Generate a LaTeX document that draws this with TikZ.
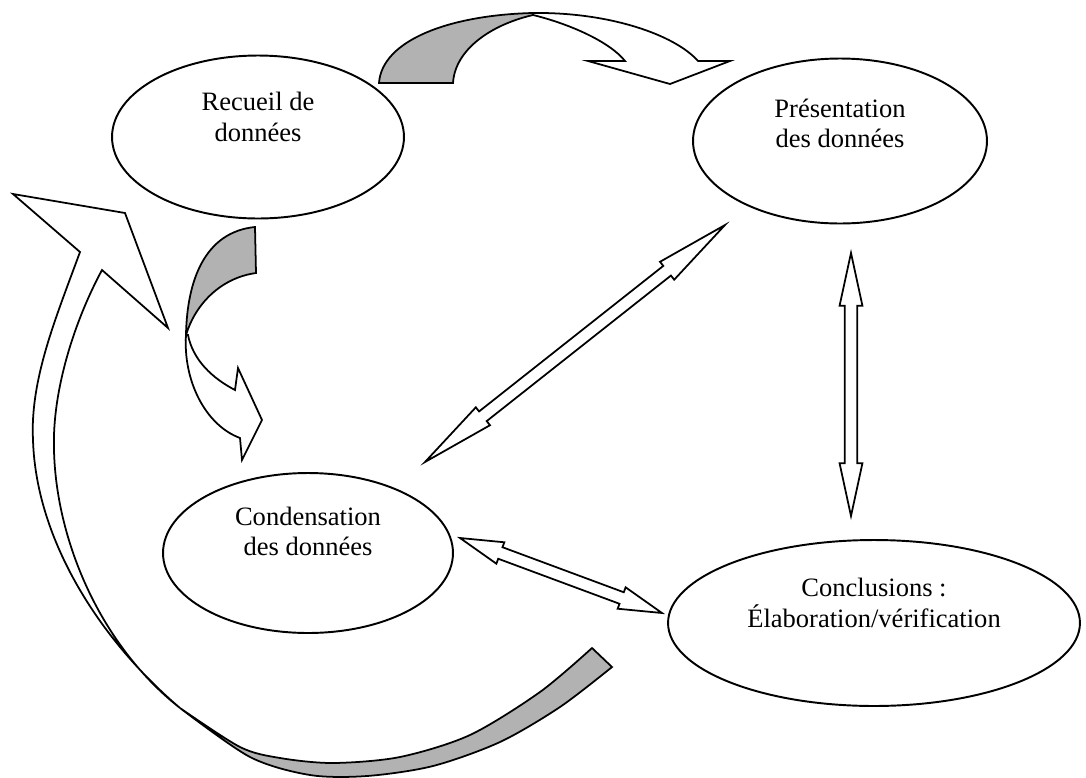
\documentclass[tikz,border=0pt]{standalone}
\usepackage{fontspec}
\setmainfont{Liberation Serif}
\usepackage{tikz}
\usetikzlibrary{calc}
\usetikzlibrary{shapes.geometric}

\tikzset{
  phase/.style={ellipse,draw,line width=1.1pt,inner sep=0pt},
  phasetext/.style={align=center,font=\fontsize{15.1}{17.6}\selectfont},
  front/.style={draw,fill=white,line width=1pt},
  back/.style={draw,fill=black!30,line width=1pt},
  blockarrow/.style={draw,fill=white,line width=1pt}
}

\newcommand{\twoway}[3]{%
  \draw[blockarrow] (#2)
    -- ($(#2)!#1!(#3)!6.5pt!90:(#3)$)
    -- ($(#2)!#1!(#3)!3.5pt!90:(#3)$)
    -- ($(#3)!#1!(#2)!3.5pt!-90:(#2)$)
    -- ($(#3)!#1!(#2)!6.5pt!-90:(#2)$)
    -- (#3)
    -- ($(#3)!#1!(#2)!6.5pt!90:(#2)$)
    -- ($(#3)!#1!(#2)!3.5pt!90:(#2)$)
    -- ($(#2)!#1!(#3)!3.5pt!-90:(#3)$)
    -- ($(#2)!#1!(#3)!6.5pt!-90:(#3)$)
    -- cycle;}

\begin{document}
\begin{tikzpicture}[x=0.02cm,y=-0.02cm]
	\useasboundingbox (0,0) rectangle (1086,778);
	\node[phase,minimum width=5.84cm,minimum height=3.26cm] (recueil) at (258,137) {};
	\node[phase,minimum width=5.88cm,minimum height=3.30cm] (presentation) at (840,141) {};
	\node[phase,minimum width=5.80cm,minimum height=3.20cm] (condensation) at (308,553) {};
	\node[phase,minimum width=8.24cm,minimum height=3.32cm] (conclusions) at (874,623) {};
	\node[phasetext] (recueil-t) at ([yshift=11.2pt]recueil.center) {Recueil de\\données};
	\node[phasetext] (presentation-t) at ([yshift=10pt]presentation.center) {Présentation\\des données};
	\node[phasetext] (condensation-t) at ([yshift=12.3pt]condensation.center) {Condensation\\des données};
	\node[phasetext] (conclusions-t) at ([yshift=11.2pt]conclusions.center) {Conclusions :\\Élaboration/vérification};
	\coordinate (p-sw) at (725,225);
	\coordinate (c-ne) at (425,462);
	\coordinate (p-s) at (851,253);
	\coordinate (k-n) at (851,516);
	\coordinate (c-e) at (460,538);
	\coordinate (k-w) at (662,613);
	\twoway{42pt}{p-sw}{c-ne}
	\twoway{30pt}{p-s}{k-n}
	\twoway{24.5pt}{c-e}{k-w}
	\filldraw[back] (379,83) .. controls (382,40) and (450,15) .. (533,13)
		-- (533,15) .. controls (490,25) and (455,50) .. (453,83) -- cycle;
	\filldraw[front] (533,13) .. controls (610,12) and (675,35) .. (698,61) -- (730,61) -- (670,84)
		-- (588,61) -- (625,61) .. controls (610,42) and (570,24) .. (533,15) -- cycle;
	\filldraw[back] (255,227) .. controls (205,232) and (187,280) .. (186,335)
		.. controls (195,305) and (220,278) .. (256,273) -- cycle;
	\filldraw[front] (186,335) .. controls (183,380) and (205,425) .. (240,438) -- (242,460) -- (262,420)
		-- (238,368) -- (235,390) .. controls (212,378) and (193,360) .. (188,335) -- cycle;
	\filldraw[back] plot[smooth] coordinates {(180,708) (250,757) (310,775) (367,776) (433,766) (500,742) (560,707) (612,667)}
		-- (592,648) -- plot[smooth] coordinates {(592,648) (540,692) (470,735) (400,757) (333,763) (280,758) (240,747) (180,708)} -- cycle;
	\filldraw[front] (180,708) .. controls (100,640) and (36,540) .. (33,440) .. controls (30,380) and (55,320) .. (80,252)
		-- (13,194) -- (125,213) -- (168,328) -- (102,270)
		.. controls (75,320) and (52,390) .. (54,450) .. controls (56,540) and (100,645) .. (180,708) -- cycle;
\end{tikzpicture}
\end{document}
